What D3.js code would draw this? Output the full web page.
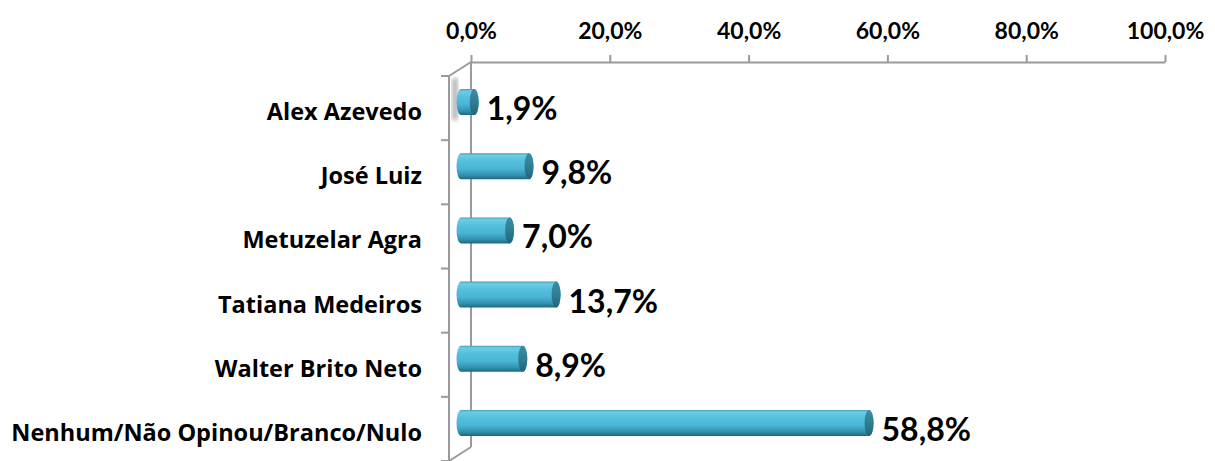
<!DOCTYPE html>
<html><head><meta charset="utf-8">
<script src="https://cdn.jsdelivr.net/npm/d3@7"></script>
<style>body{margin:0;background:#fff}svg{display:block;font-family:Lato,"Open Sans",sans-serif;font-weight:bold}</style>
</head><body><svg id="c" width="1215" height="461"></svg>
<script>
const categories = ["Alex Azevedo","José Luiz","Metuzelar Agra","Tatiana Medeiros","Walter Brito Neto","Nenhum/Não Opinou/Branco/Nulo"];
const values = [1.9, 9.8, 7.0, 13.7, 8.9, 58.8];
const tickValues = [0, 20, 40, 60, 80, 100];
const tickLabels = ["0,0%","20,0%","40,0%","60,0%","80,0%","100,0%"];
const valueLabels = ["1,9%","9,8%","7,0%","13,7%","8,9%","58,8%"];

const svg = d3.select("#c");
const gridColor = "#9a9a9a";
const depthX = -22, depthY = 14;

const xBack = d3.scaleLinear().domain([0,100]).range([471,1165]);
const yBack = d3.scaleBand().domain(categories).range([62,447]);
const yFront = d3.scaleBand().domain(categories).range([62+depthY,447+depthY]);
const xBar = d3.scaleLinear().domain([0,100]).range([461,1155]);
const bw = yBack.bandwidth();

const defs = svg.append("defs");
const grad = defs.append("linearGradient").attr("id","cyl").attr("x1",0).attr("y1",0).attr("x2",0).attr("y2",1);
[[0,"#3f9fbc"],[0.08,"#6fcbe5"],[0.3,"#55c0de"],[0.6,"#49b4d3"],[0.85,"#3290ac"],[1,"#1d677d"]].forEach(s=>grad.append("stop").attr("offset",s[0]).attr("stop-color",s[1]));
const capGrad = defs.append("linearGradient").attr("id","cap").attr("x1",0).attr("y1",0).attr("x2",0).attr("y2",1);
[[0,"#3b8ea6"],[0.5,"#2f7d93"],[1,"#23657a"]].forEach(s=>capGrad.append("stop").attr("offset",s[0]).attr("stop-color",s[1]));
defs.append("filter").attr("id","blur").append("feGaussianBlur").attr("stdDeviation",2);

// top axis (back wall top edge)
const xAxis = d3.axisTop(xBack).tickValues(tickValues).tickSize(7).tickSizeOuter(0)
  .tickFormat((d,i)=>tickLabels[i]).tickPadding(16);
const gx = svg.append("g").attr("transform","translate(0,62)").call(xAxis);
gx.select(".domain").attr("stroke",gridColor).attr("stroke-width",2);
gx.selectAll(".tick line").attr("stroke",gridColor).attr("stroke-width",2);
gx.selectAll(".tick text").attr("fill","#000").style("font-size","23px").style("font-weight","bold").style("font-family","Lato");

// walls
const g = svg.append("g").attr("fill","none").attr("stroke",gridColor).attr("stroke-width",2);
g.append("line").attr("x1",xBack(0)).attr("x2",xBack(0)).attr("y1",62).attr("y2",447);
g.append("line").attr("x1",xBack(0)+depthX).attr("x2",xBack(0)+depthX).attr("y1",62+depthY).attr("y2",447+depthY);
g.append("line").attr("x1",xBack(0)).attr("y1",62).attr("x2",xBack(0)+depthX).attr("y2",62+depthY);
g.append("line").attr("x1",xBack(0)).attr("y1",447).attr("x2",xBack(0)+depthX).attr("y2",447+depthY);
const bounds = categories.map(c=>yFront(c)).concat([yFront(categories[categories.length-1])+bw]);
g.selectAll(".yt").data(bounds).join("line")
  .attr("x1",xBack(0)+depthX-8).attr("x2",xBack(0)+depthX).attr("y1",d=>d).attr("y2",d=>d);

// category labels
svg.append("g").selectAll("text").data(categories).join("text")
  .attr("x",422).attr("y",c=>yFront(c)+bw/2+12).attr("text-anchor","end")
  .style("font-family","'Open Sans'").style("font-size","23.5px").attr("fill","#000").text(c=>c);

// shadow artifact for first bar
svg.append("rect").attr("x",452).attr("y",yBack(categories[0])+bw/2-16).attr("width",6).attr("height",42)
  .attr("fill","#9a9a9a").attr("opacity",0.7).attr("filter","url(#blur)");

// bars
const rx = 4.5, h = 26;
const bars = svg.append("g").selectAll("g").data(categories).join("g");
bars.append("path").attr("fill","url(#cyl)").attr("d",(c,i)=>{
  const cy = yBack(c)+bw/2+8, t = cy-h/2, b = cy+h/2, x0 = xBar(0), x1 = xBar(values[i]);
  return `M${x0},${t}L${x1},${t}A${rx},${h/2} 0 0 1 ${x1},${b}L${x0},${b}A${rx},${h/2} 0 0 1 ${x0},${t}Z`;
});
bars.append("ellipse").attr("cx",(c,i)=>xBar(values[i])).attr("cy",c=>yBack(c)+bw/2+8)
  .attr("rx",rx).attr("ry",h/2).attr("fill","url(#cap)");

// value labels
svg.append("g").selectAll("text").data(categories).join("text")
  .attr("x",(c,i)=>xBar(values[i])+rx+8).attr("y",c=>yBack(c)+bw/2+8+18)
  .style("font-size","32px").attr("fill","#000").text((c,i)=>valueLabels[i]);
</script></body></html>
